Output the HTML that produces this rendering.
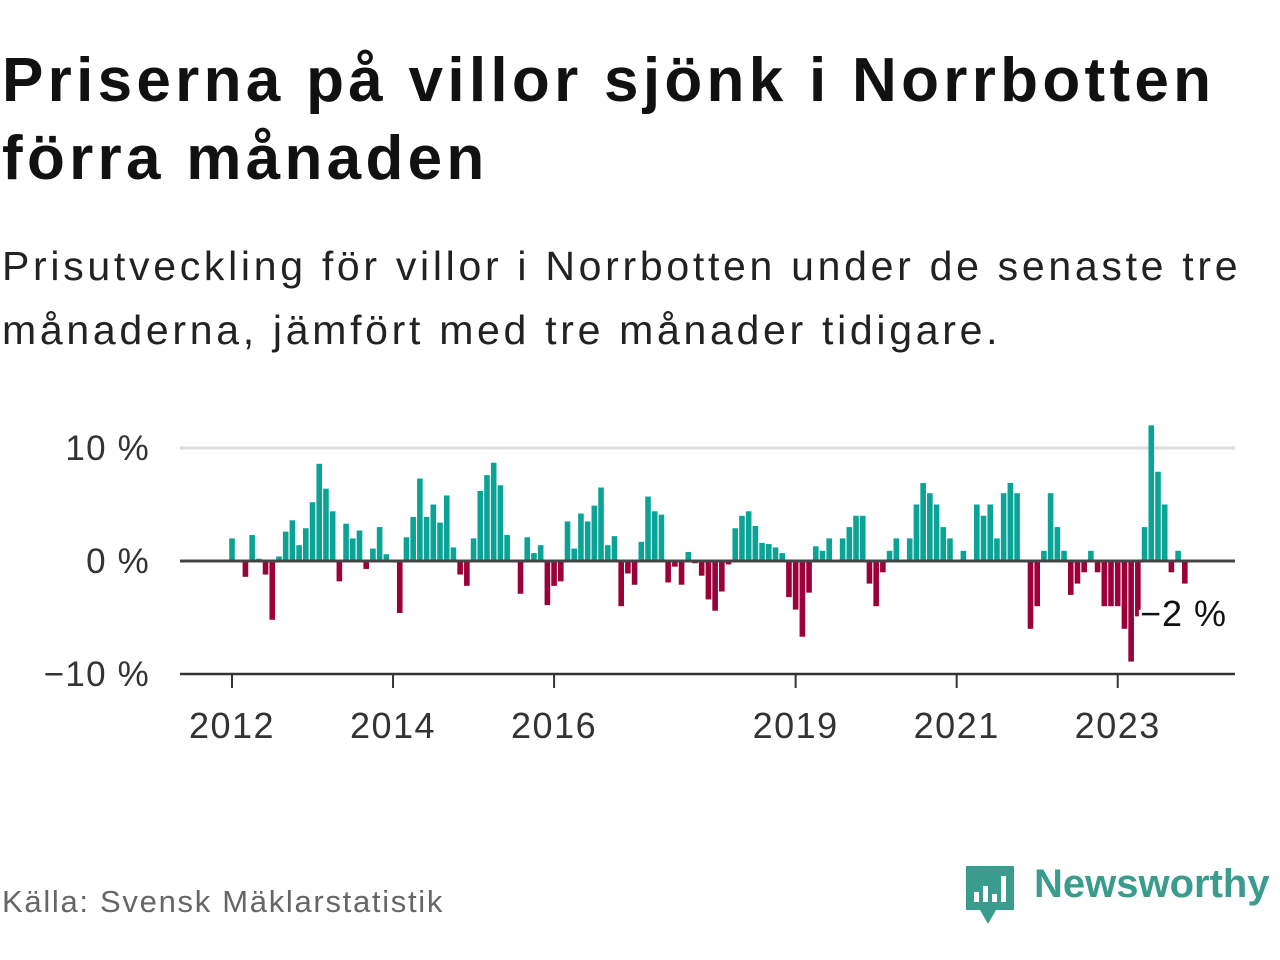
<!DOCTYPE html>
<html><head><meta charset="utf-8">
<style>
body{margin:0;width:1280px;height:960px;background:#fff;font-family:"Liberation Sans","DejaVu Sans",sans-serif;overflow:hidden;position:relative}
h1{position:absolute;left:2px;top:42px;margin:0;font-size:62px;line-height:78px;font-weight:bold;color:#111;letter-spacing:4.3px;white-space:nowrap}
.sub{position:absolute;left:2px;top:234px;margin:0;font-size:41px;line-height:64px;color:#222;letter-spacing:3.7px;white-space:nowrap}
.src{position:absolute;left:2px;top:884px;font-size:31px;color:#666;letter-spacing:1.7px}
.logo{position:absolute;left:1034px;top:862px;font-size:40px;color:#3a9c8c;font-weight:bold}
</style></head><body>
<h1>Priserna på villor sjönk i Norrbotten<br>förra månaden</h1>
<p class="sub">Prisutveckling för villor i Norrbotten under de senaste tre<br>månaderna, jämfört med tre månader tidigare.</p>
<svg id="chart" width="1280" height="960" style="position:absolute;left:0;top:0"></svg>
<div class="src">Källa: Svensk Mäklarstatistik</div>
<svg style="position:absolute;left:964px;top:864px" width="52" height="62">
<path d="M2 2h48v44H32l-8 14-8-14H2z" fill="#3a9c8c"/>
<rect x="10" y="28" width="5" height="10" fill="#fff"/><rect x="19" y="22" width="5" height="16" fill="#fff"/><rect x="28" y="30" width="5" height="8" fill="#fff"/><rect x="37" y="12" width="5" height="26" fill="#fff"/>
</svg>
<div class="logo">Newsworthy</div>
<script>
const values=[2.0,0,-1.4,2.3,0.2,-1.2,-5.2,0.4,2.6,3.6,1.4,2.9,5.2,8.6,6.4,4.4,-1.8,3.3,2.0,2.7,-0.7,1.1,3.0,0.6,
0,-4.6,2.1,3.9,7.3,3.9,5.0,3.4,5.8,1.2,-1.2,-2.2,2.0,6.2,7.6,8.7,6.7,2.3,0,-2.9,2.1,0.7,1.4,-3.9,
-2.2,-1.8,3.5,1.1,4.2,3.5,4.9,6.5,1.4,2.2,-4.0,-1.1,-2.1,1.7,5.7,4.4,4.1,-1.9,-0.5,-2.1,0.8,-0.2,-1.3,-3.4,
-4.4,-2.7,-0.3,2.9,4.0,4.4,3.1,1.6,1.5,1.2,0.7,-3.2,-4.3,-6.7,-2.8,1.3,0.9,2.0,0,2.0,3.0,4.0,4.0,-2.0,
-4.0,-1.0,0.9,2.0,0,2.0,5.0,6.9,6.0,5.0,3.0,2.0,0,0.9,0,5.0,4.0,5.0,2.0,6.0,6.9,6.0,0,-6.0,
-4.0,0.9,6.0,3.0,0.9,-3.0,-2.0,-1.0,0.9,-1.0,-4.0,-4.0,-4.0,-6.0,-8.9,-4.9,3.0,12.0,7.9,5.0,-1.0,0.9,-2.0];
const yTicks=[10,0,-10];
const yTickLabels=["10 %","0 %","\u221210 %"];
const xTickMonths=[0,24,48,84,108,132];
const xTickLabels=["2012","2014","2016","2019","2021","2023"];
const endLabel="\u22122 %";
const NS="http://www.w3.org/2000/svg";
const svg=document.getElementById('chart');
const x=i=>232+i*6.71;
const y=v=>561-v*11.3;
function mk(t,a,p){const e=document.createElementNS(NS,t);for(const k in a)e.setAttribute(k,a[k]);(p||svg).appendChild(e);return e;}
yTicks.forEach((t,i)=>{
  if(t!==0){const l=mk('line',{x1:180,x2:1235,y1:y(t),y2:y(t),stroke:t===-10?'#333':'#ddd','stroke-width':t===-10?2.5:3});
  
  }
  const tx=mk('text',{x:150,y:y(t)+12,'text-anchor':'end','font-size':35,fill:'#333','letter-spacing':1.2});
  tx.textContent=yTickLabels[i];
  
  
});
values.forEach((v,i)=>{
  const r=mk('rect',{x:x(i)-2.8,width:5.6,y:v>=0?y(v):y(0),height:Math.abs(y(v)-y(0)),fill:v>=0?'#0aa396':'#9b0039'});
  
  
});
const z=mk('line',{x1:180,x2:1235,y1:y(0),y2:y(0),stroke:'#444','stroke-width':3});


xTickMonths.forEach((m,i)=>{
  const l=mk('line',{x1:x(m),x2:x(m),y1:y(-10),y2:y(-10)+14,stroke:'#333','stroke-width':2});
  
  
  const t=mk('text',{x:x(m),y:738,'text-anchor':'middle','font-size':36,fill:'#333','letter-spacing':1.5});
  t.textContent=xTickLabels[i];
  
  
});
const lb=mk('text',{x:1140,y:626,'font-size':36,fill:'#111',stroke:'#fff','stroke-width':6,'paint-order':'stroke','letter-spacing':1});
lb.textContent=endLabel;


</script>
</body></html>
